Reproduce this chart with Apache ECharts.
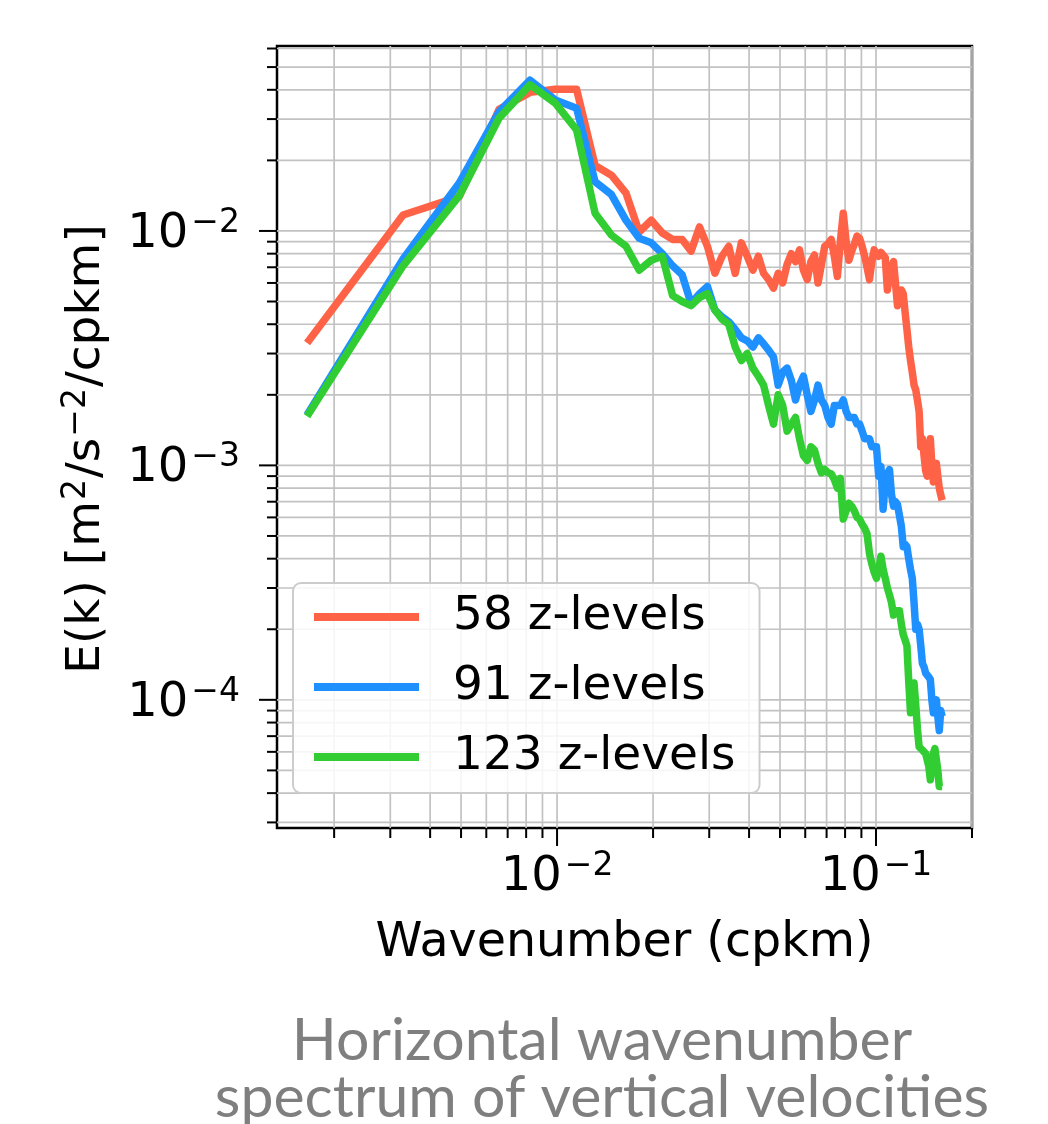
<!DOCTYPE html>
<html><head><meta charset="utf-8">
<script src="https://cdn.jsdelivr.net/npm/echarts@6/dist/echarts.min.js"></script>
<style>html,body{margin:0;padding:0;background:#fff}#c{width:1048px;height:1124px}</style>
</head><body><div id="c"></div>
<script>
const wavenumber = [0.001645,0.00329,0.004935,0.00658,0.008225,0.00987,0.011515,0.01316,0.014805,0.01645,
0.018095,0.01974,0.021385,0.02303,0.024675,0.02632,0.027965,0.02961,0.031255,0.0329,
0.034545,0.03619,0.037835,0.03948,0.041125,0.04277,0.044415,0.04606,0.047705,0.04935,
0.050995,0.05264,0.054285,0.05593,0.057575,0.05922,0.060865,0.06251,0.064155,0.0658,
0.067445,0.06909,0.070735,0.07238,0.074025,0.07567,0.077315,0.07896,0.080605,0.08225,
0.083895,0.08554,0.087185,0.08883,0.090475,0.09212,0.093765,0.09541,0.097055,0.0987,
0.100345,0.10199,0.103635,0.10528,0.106925,0.10857,0.110215,0.11186,0.113505,0.11515,
0.116795,0.11844,0.120085,0.12173,0.123375,0.12502,0.126665,0.12831,0.129955,0.1316,
0.133245,0.13489,0.136535,0.13818,0.139825,0.14147,0.143115,0.14476,0.146405,0.14805,
0.149695,0.15134,0.152985,0.15463,0.156275,0.15792,0.159565,0.16121];

const e58 = [0.00333,0.0117,0.0140,0.0330,0.0390,0.0402,0.0402,0.0190,0.0173,0.0145,
0.0099,0.0111,0.0098,0.0092,0.0092,0.0082,0.0104,0.0086,0.0066,0.0078,
0.0086,0.0066,0.0089,0.0078,0.0068,0.0078,0.0066,0.0062,0.0057,0.0066,
0.0060,0.0072,0.0080,0.0074,0.0083,0.0068,0.0062,0.0074,0.0079,0.0060,
0.0072,0.0086,0.0088,0.0092,0.0078,0.0064,0.0090,0.0119,0.0090,0.0075,
0.0082,0.0088,0.0095,0.0093,0.0086,0.0078,0.0070,0.0062,0.0074,0.0083,
0.0080,0.0078,0.0081,0.0079,0.0077,0.0056,0.0064,0.0070,0.0074,0.0075,
0.0048,0.0052,0.0056,0.0054,0.0045,0.0038,0.0032,0.0028,0.0025,0.0022,
0.0021,0.0019,0.0017,0.0012,0.0013,0.0011,0.00095,0.00090,0.0011,0.0013,
0.0010,0.00085,0.0009,0.00102,0.0009,0.0008,0.00075,0.00071];

const e91 = [0.00164,0.0076,0.0160,0.0323,0.0440,0.0362,0.0334,0.0162,0.0143,0.0111,
0.0093,0.0089,0.0080,0.0071,0.0065,0.0049,0.0054,0.0058,0.0046,0.0043,
0.0041,0.0038,0.0035,0.0034,0.0032,0.0035,0.0033,0.0031,0.0029,0.0022,
0.0025,0.0026,0.0023,0.0019,0.0022,0.0024,0.0020,0.0017,0.0019,0.0022,
0.0019,0.0018,0.0016,0.0015,0.0018,0.0018,0.0018,0.0019,0.0017,0.0016,
0.0016,0.0016,0.0015,0.0015,0.0014,0.0013,0.0013,0.0013,0.0012,0.0012,
0.0012,0.0009,0.00099,0.00065,0.00085,0.00092,0.00096,0.00075,0.00067,0.00070,
0.00068,0.00067,0.00055,0.00045,0.00046,0.00045,0.00040,0.00036,0.00033,0.00026,
0.00020,0.00021,0.00020,0.00017,0.000143,0.000138,0.000130,0.000128,0.000125,0.000122,
0.000100,0.000088,0.000095,0.000100,0.000085,0.000074,0.000090,0.000085];

const e123 = [0.00162,0.0071,0.0141,0.0303,0.0420,0.0351,0.0270,0.0119,0.0096,0.0086,
0.0068,0.0075,0.0078,0.0053,0.0050,0.0048,0.0052,0.0054,0.0046,0.0042,
0.0040,0.0032,0.0028,0.0030,0.0026,0.0024,0.0022,0.0018,0.0015,0.0020,
0.0018,0.0014,0.0015,0.0016,0.0013,0.0011,0.00105,0.0012,0.00116,0.00102,
0.00093,0.00096,0.00093,0.00092,0.00087,0.00080,0.00088,0.00059,0.00064,0.00069,
0.00067,0.00064,0.00060,0.00059,0.00056,0.00054,0.00051,0.00042,0.00038,0.00035,
0.00033,0.00036,0.00041,0.00036,0.00033,0.00030,0.00028,0.00026,0.00023,0.00024,
0.00024,0.00024,0.00021,0.00019,0.00018,0.00017,0.00012,0.000088,0.00010,0.000118,
0.000095,0.000075,0.000063,0.000062,0.000061,0.000060,0.000059,0.000059,0.000052,0.0000456,
0.000052,0.000059,0.000062,0.000063,0.000050,0.0000427,0.000043,0.0000427];

const seriesNames = ['58 z-levels', '91 z-levels', '123 z-levels'];
const seriesColors = ['#ff6347', '#1e90ff', '#32cd32'];
const xRange = [1.324e-3, 0.2];
const yRange = [2.84e-5, 0.0615];
const xMajorTicks = [0.01, 0.1];
const xMinorTicks = [0.002,0.003,0.004,0.005,0.006,0.007,0.008,0.009,0.02,0.03,0.04,0.05,0.06,0.07,0.08,0.09,0.2];
const yMajorTicks = [1e-4, 1e-3, 1e-2];
const yMinorTicks = [3e-5,4e-5,5e-5,6e-5,7e-5,8e-5,9e-5,2e-4,3e-4,4e-4,5e-4,6e-4,7e-4,8e-4,9e-4,
  2e-3,3e-3,4e-3,5e-3,6e-3,7e-3,8e-3,9e-3,2e-2,3e-2,4e-2,5e-2,6e-2];
const xTitle = 'Wavenumber (cpkm)';
// y title as rich-text pieces: E(k) [m^2/s^-2/cpkm]
const yTitleRich = '{t|E(k) [m}{s|2}{t|/s}{s|\u22122}{t|/cpkm]}';
const caption = 'Horizontal wavenumber\nspectrum of vertical velocities';

const FONT = '"DejaVu Sans"';
const chart = echarts.init(document.getElementById('c'), null, {renderer: 'canvas'});

function powLabel(v) {
  const l = Math.log10(v);
  const e = Math.round(l);
  if (Math.abs(l - e) > 1e-6) return '';
  return '{b|10}{s|' + (e < 0 ? '\u2212' : '') + Math.abs(e) + '}';
}
const richLab = {
  b: {fontSize: 48, lineHeight: 48, fontFamily: FONT, color: '#000', padding: [7, 0, 0, 0]},
  s: {fontSize: 33, lineHeight: 33, fontFamily: FONT, color: '#000', verticalAlign: 'top', padding: [0, 0, 0, 3]}
};
const richTitle = {
  t: {fontSize: 47, lineHeight: 47, fontFamily: FONT, color: '#000', padding: [7, 0, 0, 0]},
  s: {fontSize: 33, lineHeight: 33, fontFamily: FONT, color: '#000', verticalAlign: 'top', padding: [0, 1, 0, 1]}
};

function tickSeries(values, isX, major) {
  const data = values.map(v => isX ? [v, yRange[0]] : [xRange[0], v]);
  return {
    type: 'custom', silent: true, z: 1, clip: false,
    data: data,
    renderItem: function (params, api) {
      const cs = params.coordSys;
      const p = api.coord([api.value(0), api.value(1)]);
      const len = major ? 18 : 10;
      const grid = {stroke: '#c2c2c2', lineWidth: 1.7};
      const tick = {stroke: '#000', lineWidth: 2};
      if (isX) {
        return {type: 'group', children: [
          {type: 'line', shape: {x1: p[0], y1: cs.y, x2: p[0], y2: cs.y + cs.height}, style: grid},
          {type: 'line', shape: {x1: p[0], y1: cs.y + cs.height, x2: p[0], y2: cs.y + cs.height + len}, style: tick}
        ]};
      }
      return {type: 'group', children: [
        {type: 'line', shape: {x1: cs.x, y1: p[1], x2: cs.x + cs.width, y2: p[1]}, style: grid},
        {type: 'line', shape: {x1: cs.x - len, y1: p[1], x2: cs.x, y2: p[1]}, style: tick}
      ]};
    }
  };
}

const lineData = [e58, e91, e123].map(arr => arr.map((v, i) => [wavenumber[i], v]));

chart.setOption({
  animation: false,
  backgroundColor: '#fff',
  grid: {left: 277, top: 46, width: 695, height: 782, show: true, borderColor: '#000', borderWidth: 2.5, backgroundColor: 'transparent'},
  xAxis: {
    type: 'log', logBase: 10, min: xRange[0], max: xRange[1],
    name: xTitle, nameLocation: 'middle', nameGap: 92,
    nameTextStyle: {fontSize: 47.5, fontFamily: FONT, color: '#000'},
    axisLine: {show: false}, axisTick: {show: false}, splitLine: {show: false},
    axisLabel: {formatter: powLabel, rich: richLab, margin: 22, showMinLabel: true, showMaxLabel: true}
  },
  yAxis: {
    type: 'log', logBase: 10, min: yRange[0], max: yRange[1],
    name: yTitleRich, nameLocation: 'middle', nameGap: 170,
    nameTextStyle: {rich: richTitle, padding: [0, 24, 0, 0]},
    axisLine: {show: false}, axisTick: {show: false}, splitLine: {show: false},
    axisLabel: {formatter: powLabel, rich: richLab, margin: 37}
  },
  legend: {
    data: seriesNames, orient: 'vertical', left: 293, top: 583,
    icon: 'rect', itemWidth: 105, itemHeight: 8, itemGap: 14,
    padding: [6, 24, 8, 21],
    backgroundColor: 'rgba(255,255,255,0.85)', borderColor: '#cccccc', borderWidth: 2, borderRadius: 8,
    textStyle: {fontSize: 47, lineHeight: 56, fontFamily: FONT, color: '#000', padding: [0, 0, 0, 29]},
    selectedMode: false
  },
  graphic: [{
    type: 'text', x: 602, y: 1012,
    style: {text: caption, fill: '#7f7f7f', font: '59px Lato', textAlign: 'center', lineHeight: 57}
  }],
  series: [
    tickSeries(xMajorTicks, true, true),
    tickSeries(xMinorTicks, true, false),
    tickSeries(yMajorTicks, false, true),
    tickSeries(yMinorTicks, false, false)
  ].concat(seriesNames.map((n, i) => ({
    name: n, type: 'line', data: lineData[i], showSymbol: false, symbol: 'none', z: 3,
    color: seriesColors[i],
    lineStyle: {width: 7.5, color: seriesColors[i], join: 'round'}
  })))
});
</script></body></html>
